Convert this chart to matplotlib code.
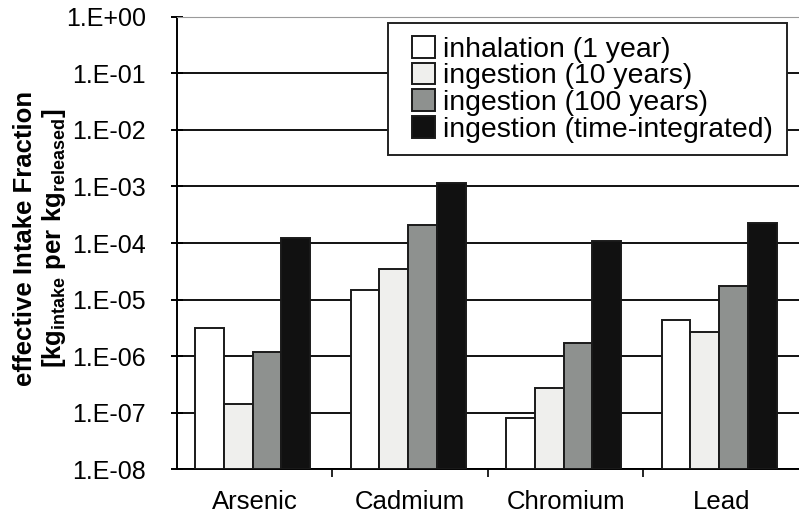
import matplotlib
matplotlib.use("Agg")
import matplotlib.pyplot as plt
import numpy as np
from matplotlib.patches import Rectangle
from matplotlib.ticker import FixedLocator, FixedFormatter, NullLocator

# ---------------------------------------------------------------------------
# Data
# ---------------------------------------------------------------------------
metals = ["Arsenic", "Cadmium", "Chromium", "Lead"]
series = ["inhalation (1 year)", "ingestion (10 years)",
          "ingestion (100 years)", "ingestion (time-integrated)"]
inhal_1y  = [3.1e-6, 1.45e-5, 7.0e-8, 4.3e-6]
ing_10y   = [1.3e-7, 3.5e-5, 2.65e-7, 2.65e-6]
ing_100y  = [1.15e-6, 2.1e-4, 1.7e-6, 1.77e-5]
ing_total = [1.25e-4, 1.15e-3, 1.1e-4, 2.25e-4]
ytick_vals = [1e-8, 1e-7, 1e-6, 1e-5, 1e-4, 1e-3, 1e-2, 1e-1, 1e0]
ytick_labels = ["1.E-08", "1.E-07", "1.E-06", "1.E-05", "1.E-04",
                "1.E-03", "1.E-02", "1.E-01", "1.E+00"]

colors = ["#ffffff", "#efefed", "#8e918f", "#111111"]

plt.rcParams["font.family"] = ["Liberation Sans", "DejaVu Sans"]
plt.rcParams["mathtext.fontset"] = "custom"
plt.rcParams["mathtext.rm"] = "Liberation Sans:bold"

fig = plt.figure(figsize=(7.99, 5.26), dpi=100)
ax = fig.add_axes([0.2215, 0.108, 0.7785, 0.860])

x = np.arange(len(metals))
w = 0.185
values = [inhal_1y, ing_10y, ing_100y, ing_total]
for i, (vals, c, lab) in enumerate(zip(values, colors, series)):
    ax.bar(x + (i - 1.5) * w - 0.013, vals, width=w, bottom=1e-8, color=c,
           edgecolor="#1a1a1a", linewidth=1.4, label=lab, zorder=3)

ax.set_yscale("log")
ax.set_ylim(1e-8, 1e0)
ax.set_xlim(-0.5, len(metals) - 0.5)
ax.yaxis.set_major_locator(FixedLocator(ytick_vals))
ax.yaxis.set_major_formatter(FixedFormatter(ytick_labels))
ax.yaxis.set_minor_locator(NullLocator())
ax.grid(axis="y", color="#111111", linewidth=1.4, zorder=0)

ax.set_xticks(x)
ax.set_xticklabels(metals, fontsize=18.5)
ax.tick_params(axis="x", which="major", length=0, pad=15)
ax.set_xticks(np.arange(0.5, len(metals) - 0.5), minor=True)
ax.tick_params(axis="x", which="minor", length=6, width=1.2, direction="out")
ax.tick_params(axis="y", which="major", labelsize=18, length=9, width=1.4,
               direction="inout", pad=18)

ax.spines["right"].set_visible(False)
ax.spines["top"].set_color("#9a9a9a")
ax.spines["left"].set_linewidth(1.4)
ax.spines["bottom"].set_linewidth(1.4)

ax.set_ylabel("effective Intake Fraction\n"
              r"[kg$_{\mathrm{intake}}$ per kg$_{\mathrm{released}}$]",
              fontsize=18.5, fontweight="bold", linespacing=1.15)
ax.yaxis.set_label_coords(-0.175, 0.51)

# legend box drawn separately so the left padding matches the original
ax.add_patch(Rectangle((0.339, 0.695), 0.642, 0.292, transform=ax.transAxes,
                       facecolor="white", edgecolor="#222222", linewidth=1.4,
                       zorder=5, clip_on=False))
leg = ax.legend(loc="upper left", bbox_to_anchor=(0.378, 0.958), fontsize=20.4,
                frameon=False, handlelength=0.8, handleheight=0.8,
                handletextpad=0.3, labelspacing=0.0, borderpad=0.0,
                borderaxespad=0.0)
leg.set_zorder(6)

fig.savefig("out.png", dpi=100)
